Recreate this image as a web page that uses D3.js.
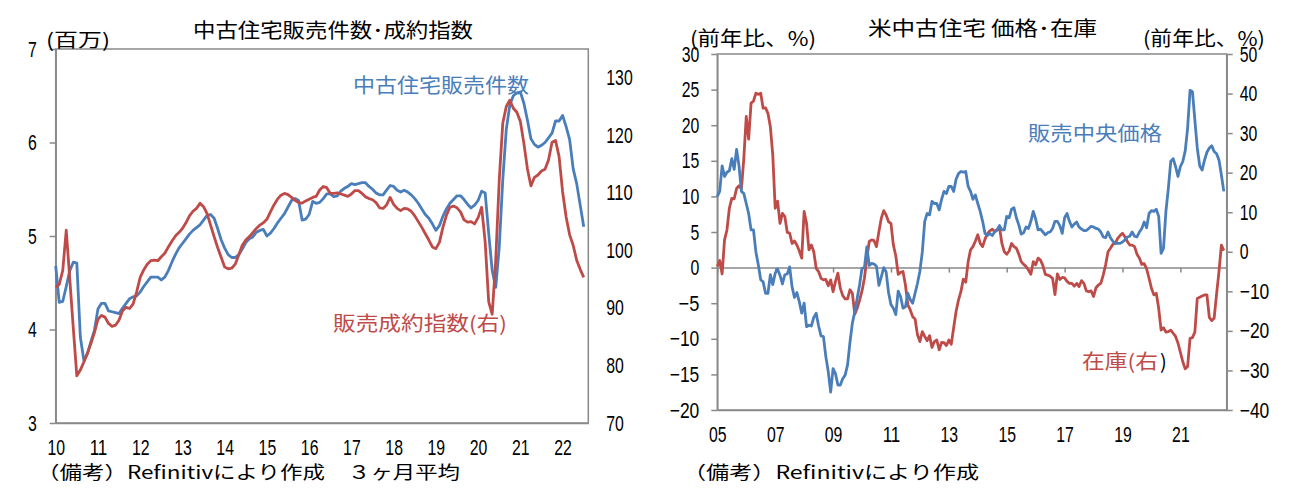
<!DOCTYPE html>
<html>
<head>
<meta charset="utf-8">
<title>中古住宅販売件数・米中古住宅 価格・在庫</title>
<style>
  body{margin:0;background:#fff}
  svg text{font-family:"Noto Sans CJK JP",sans-serif;fill:#000}
  .tick text{font-family:"Liberation Sans",Arial,sans-serif;font-size:22px;fill:#000}
</style>
</head>
<body>
<script src="https://d3js.org/d3.v7.min.js"></script>
<script>
// ---- left chart: 2010-01 .. 2022-07, monthly (3ヶ月平均)
var salesCount = [ // 中古住宅販売件数 (百万)
  4.68,4.29,4.30,4.46,4.63,4.72,4.71,3.92,3.67,3.74,3.87,3.99,
  4.22,4.28,4.28,4.20,4.19,4.18,4.17,4.23,4.28,4.33,4.35,4.36,
  4.40,4.46,4.51,4.56,4.56,4.56,4.53,4.56,4.63,4.72,4.80,4.87,
  4.92,4.97,5.02,5.06,5.09,5.12,5.17,5.22,5.23,5.19,5.08,4.96,
  4.87,4.80,4.77,4.77,4.80,4.86,4.93,4.97,4.99,5.04,5.06,5.07,
  5.00,5.03,5.08,5.14,5.19,5.24,5.31,5.38,5.40,5.38,5.17,5.18,
  5.23,5.37,5.35,5.36,5.40,5.45,5.45,5.42,5.43,5.48,5.51,5.53,
  5.56,5.55,5.56,5.57,5.57,5.53,5.50,5.46,5.44,5.44,5.49,5.54,
  5.53,5.49,5.47,5.49,5.47,5.44,5.40,5.35,5.29,5.23,5.19,5.13,
  5.06,5.11,5.21,5.29,5.35,5.39,5.43,5.43,5.39,5.34,5.30,5.33,
  5.38,5.48,5.46,5.03,4.63,4.45,4.88,5.60,6.14,6.40,6.50,6.53,
  6.54,6.42,6.24,6.04,5.98,5.95,5.97,6.00,6.05,6.10,6.23,6.23,
  6.29,6.17,6.03,5.72,5.56,5.33,5.10
];
var contractIndex = [ // 販売成約指数 (右軸)
  93.6,94.1,96.5,103.5,95.0,86.5,78.2,79.2,80.6,82.1,83.8,85.7,
  88.0,88.7,88.4,87.3,86.8,87.0,87.9,89.5,90.1,89.9,90.7,92.8,
  95.3,96.6,97.6,98.2,98.3,98.2,98.9,99.5,100.6,101.6,102.5,103.1,
  103.8,104.8,106.0,106.8,107.3,108.2,107.6,106.4,104.4,102.4,100.5,98.8,
  97.1,96.8,96.9,97.6,99.2,100.9,101.8,102.4,103.1,103.8,104.4,104.8,
  105.4,106.7,107.9,108.9,109.6,109.9,109.7,109.2,108.7,108.3,108.2,108.6,
  108.9,109.2,109.4,110.5,111.1,110.9,109.9,109.9,110.0,109.8,109.6,109.4,
  109.8,110.4,110.4,109.9,109.3,109.0,108.8,108.3,107.4,107.3,107.9,109.2,
  108.0,107.3,106.9,107.3,107.2,106.8,106.0,105.0,104.0,102.9,101.8,100.6,
  100.3,101.4,104.0,106.1,107.5,107.7,107.4,106.7,105.3,104.9,105.0,104.6,
  105.7,107.5,101.5,91.1,88.9,98.3,112.2,122.1,125.0,126.1,124.7,124.0,
  122.4,118.6,114.2,111.2,112.7,113.1,113.8,114.1,115.7,118.8,119.1,116.3,
  110.2,105.8,102.7,100.9,98.3,96.7,95.3
];
var leftYearLabels = ["10","11","12","13","14","15","16","17","18","19","20","21","22"];
var leftTicks = [3,4,5,6,7];
var leftTicks2 = [70,80,90,100,110,120,130];

// ---- right chart: 2005-01 .. 2022-07, monthly, 前年比 %
var medianPrice = [ // 販売中央価格
  10.0,10.7,14.3,12.8,13.4,13.6,15.3,13.8,16.6,14.3,10.7,10.4,
  9.0,7.6,5.3,5.3,2.2,0.4,-1.7,-2.0,-3.6,-3.6,-1.0,-2.4,
  -0.8,-0.2,-1.1,-2.3,-1.0,-0.9,0.1,-2.7,-4.2,-3.5,-4.8,-6.4,
  -5.0,-8.3,-8.1,-8.2,-7.0,-6.4,-8.2,-9.6,-9.7,-12.5,-14.6,-17.5,
  -14.2,-14.9,-16.5,-16.5,-15.6,-15.1,-13.7,-10.5,-7.8,-6.2,-4.3,-2.4,
  -0.1,0.0,2.9,0.3,0.6,0.5,0.2,-2.5,-1.3,0.0,-0.6,-3.5,
  -5.2,-5.7,-6.6,-3.3,-4.1,-5.7,-5.5,-3.6,-4.5,-5.0,-3.6,-2.2,
  -0.5,2.2,6.5,7.6,7.4,9.3,9.0,9.0,8.1,9.6,10.7,10.4,
  11.4,11.4,10.7,12.4,13.2,13.5,13.4,13.5,11.4,10.7,9.6,10.2,
  9.0,7.9,6.5,4.8,4.5,4.8,4.5,5.0,5.3,5.9,5.3,5.3,
  7.2,7.0,8.2,8.4,7.0,6.0,4.7,4.9,5.7,5.5,6.5,7.9,
  6.8,5.3,5.4,5.0,4.6,4.9,5.0,5.5,6.5,6.5,5.9,4.8,
  7.0,7.6,6.5,5.7,6.1,6.4,5.7,5.4,5.2,5.2,5.5,5.8,
  5.7,5.5,5.4,5.0,4.3,4.2,5.0,4.2,3.7,3.4,3.4,3.4,
  3.6,3.9,4.3,4.4,5.0,4.4,4.3,5.0,5.5,6.4,5.6,7.6,
  8.0,7.9,8.2,7.2,2.0,2.7,7.9,11.1,14.9,15.3,14.2,12.8,
  14.2,14.9,16.4,19.6,24.9,24.7,20.7,16.8,14.3,13.7,15.1,16.2,
  16.8,17.1,16.3,16.0,15.1,13.0,10.7
];
var inventory = [ // 在庫 (右軸)
  -3.7,-2.2,-5.6,3.0,5.5,11.0,13.5,13.4,16.0,16.7,15.9,23.6,
  34.2,28.5,37.6,38.1,40.1,39.8,40.1,36.3,36.4,35.0,31.6,24.5,
  11.0,12.8,7.2,9.7,8.9,4.9,4.7,2.1,2.7,1.7,0.2,-1.6,
  10.2,7.2,0.5,1.7,0.0,-4.2,-5.0,-6.7,-7.1,-7.0,-8.6,-7.1,
  -10.1,-7.5,-5.4,-9.2,-11.1,-11.9,-11.9,-9.6,-10.5,-15.8,-14.3,-12.2,
  -9.9,-6.7,-1.6,2.6,3.0,2.8,1.3,5.1,8.5,10.4,9.3,7.6,
  7.2,1.7,-1.0,-5.7,-5.2,-5.0,-8.4,-13.4,-14.7,-16.4,-17.0,-21.0,
  -22.7,-20.2,-21.4,-22.5,-21.2,-24.2,-22.7,-22.3,-24.8,-22.9,-23.0,-23.7,
  -22.3,-23.4,-19.2,-15.1,-12.2,-10.1,-6.9,-7.7,-2.5,0.5,1.3,2.7,
  4.3,2.1,1.3,3.2,4.6,5.3,5.7,5.1,5.5,6.2,2.1,0.0,
  -0.6,0.2,2.1,1.3,0.9,-0.6,-2.5,-3.2,-3.7,-4.6,-5.7,-2.5,
  -3.3,-1.6,-2.1,-3.5,-5.7,-5.9,-6.2,-6.7,-10.8,-5.6,-7.0,-6.5,
  -6.6,-7.5,-8.0,-8.0,-8.7,-8.0,-8.8,-7.3,-8.0,-9.9,-10.1,-9.9,
  -11.3,-9.1,-8.4,-8.0,-5.9,-3.3,0.0,0.9,1.9,2.1,3.4,4.1,
  4.7,3.8,2.6,1.7,1.7,1.3,-0.6,-1.6,-3.2,-3.0,-4.3,-6.7,
  -9.2,-10.9,-10.5,-14.3,-19.8,-19.2,-20.3,-20.2,-19.8,-20.6,-21.4,-23.1,
  -25.4,-27.8,-29.6,-29.0,-21.9,-21.7,-20.3,-11.8,-11.5,-11.2,-10.9,-10.9,
  -16.6,-17.4,-16.8,-10.7,-5.0,1.7,0.3
];
var rightYearLabels = ["05","07","09","11","13","15","17","19","21"];
var rightTicks = [-20,-15,-10,-5,0,5,10,15,20,25,30];
var rightTicks2 = [-40,-30,-20,-10,0,10,20,30,40,50];

var blue = "#4a7ebb", red = "#be4b48", gray = "#898989";

var svg = d3.select("body").append("svg")
    .attr("width", 1304)
    .attr("height", 501);

// gray axis lines, narrow tall digits like the original
function styleAxis(g){
  g.select(".domain").attr("stroke", gray).attr("stroke-width", 1.5);
  g.selectAll(".tick line").attr("stroke", gray).attr("stroke-width", 1.5);
  g.selectAll(".tick text").each(function(){
    var t = this.textContent, w = 0;
    for (var k = 0; k < t.length; k++) w += (t[k] === "\u2212") ? 12 : 8.8;
    if (w > 0) d3.select(this).attr("textLength", w).attr("lengthAdjust", "spacingAndGlyphs");
  });
}

function label(txt, x, y, len, size, color){
  return svg.append("text")
    .attr("x", x).attr("y", y)
    .attr("dominant-baseline", "central")
    .attr("textLength", len).attr("lengthAdjust", "spacingAndGlyphs")
    .style("font-size", size + "px")
    .style("fill", color || "#000")
    .text(txt);
}

// ================= left chart =================
var L = {left: 55.7, right: 588.3, top: 49, bottom: 423};
var xL = d3.scaleLinear().domain([0, 151.3]).range([L.left, L.right]);
var yL = d3.scaleLinear().domain([3, 7]).range([L.bottom, L.top]);
var yL2 = d3.scaleLinear().domain([70, 135]).range([L.bottom, L.top]);

svg.append("rect")
    .attr("x", L.left).attr("y", L.top)
    .attr("width", L.right - L.left).attr("height", L.bottom - L.top)
    .attr("fill", "none").attr("stroke", gray).attr("stroke-width", 1.5);

svg.append("g")
    .attr("transform", "translate(" + L.left + ",0)")
    .call(d3.axisLeft(yL).tickValues(leftTicks).tickSize(6).tickSizeOuter(0).tickPadding(13).tickFormat(d3.format("d")))
    .call(styleAxis);

svg.append("g")
    .attr("transform", "translate(" + L.right + ",0)")
    .call(d3.axisRight(yL2).tickValues(leftTicks2).tickSize(0).tickPadding(18).tickFormat(d3.format("d")))
    .call(styleAxis)
    .call(function(g){ g.select(".domain").remove(); });

svg.append("g")
    .attr("transform", "translate(0," + L.bottom + ")")
    .call(d3.axisBottom(xL).tickValues(leftYearLabels.map(function(d, i){ return i * 12; }))
        .tickSize(0).tickPadding(16).tickFormat(function(d, i){ return leftYearLabels[i]; }))
    .call(styleAxis);

var lineL = d3.line().x(function(d, i){ return xL(i); });
svg.append("path")
    .datum(salesCount)
    .attr("d", lineL.y(function(d){ return yL(d); }))
    .attr("fill", "none").attr("stroke", blue).attr("stroke-width", 2.8).attr("stroke-linejoin", "round");
svg.append("path")
    .datum(contractIndex)
    .attr("d", lineL.y(function(d){ return yL2(d); }))
    .attr("fill", "none").attr("stroke", red).attr("stroke-width", 2.8).attr("stroke-linejoin", "round");

label("中古住宅販売件数･成約指数", 193, 29, 280, 20);
label("(百万)", 46, 38, 64, 19);
label("中古住宅販売件数", 353, 84, 176, 20, blue);
label("販売成約指数(右)", 333, 322, 174, 20, red);
label("（備考）Refinitivにより作成", 37, 471, 288, 18);
label("３ヶ月平均", 348, 471, 112, 18);

// ================= right chart =================
var R = {left: 717.3, right: 1226.7, top: 54, bottom: 410};
var xR = d3.scaleLinear().domain([0, 211.2]).range([R.left, R.right]);
var yR = d3.scaleLinear().domain([-20, 30]).range([R.bottom, R.top]);
var yR2 = d3.scaleLinear().domain([-40, 50]).range([R.bottom, R.top]);

svg.append("rect")
    .attr("x", R.left).attr("y", R.top)
    .attr("width", R.right - R.left).attr("height", R.bottom - R.top)
    .attr("fill", "none").attr("stroke", gray).attr("stroke-width", 1.5);

svg.append("g")
    .attr("transform", "translate(" + R.left + ",0)")
    .call(d3.axisLeft(yR).tickValues(rightTicks).tickSize(6).tickSizeOuter(0).tickPadding(12).tickFormat(d3.format("d")))
    .call(styleAxis);

svg.append("g")
    .attr("transform", "translate(" + R.right + ",0)")
    .call(d3.axisRight(yR2).tickValues(rightTicks2).tickSize(6).tickSizeOuter(0).tickPadding(7).tickFormat(d3.format("d")))
    .call(styleAxis);

var rightTickPos = rightYearLabels.map(function(d, i){ return i * 24; });

// zero line with small year ticks
svg.append("g")
    .attr("transform", "translate(0," + yR(0) + ")")
    .call(d3.axisBottom(xR).tickValues(rightTickPos).tickSize(5).tickSizeOuter(0).tickFormat(""))
    .call(styleAxis);

svg.append("g")
    .attr("transform", "translate(0," + R.bottom + ")")
    .call(d3.axisBottom(xR).tickValues(rightTickPos).tickSize(0).tickPadding(16)
        .tickFormat(function(d, i){ return rightYearLabels[i]; }))
    .call(styleAxis);

var lineR = d3.line().x(function(d, i){ return xR(i); });
svg.append("path")
    .datum(inventory)
    .attr("d", lineR.y(function(d){ return yR2(d); }))
    .attr("fill", "none").attr("stroke", red).attr("stroke-width", 2.8).attr("stroke-linejoin", "round");
svg.append("path")
    .datum(medianPrice)
    .attr("d", lineR.y(function(d){ return yR(d); }))
    .attr("fill", "none").attr("stroke", blue).attr("stroke-width", 2.8).attr("stroke-linejoin", "round");

label("米中古住宅 価格･在庫", 868, 27, 229, 20);
label("(前年比、%)", 690, 37, 126, 20);
label("(前年比、%)", 1143, 37, 122, 20);
label("販売中央価格", 1028, 132, 134, 20, blue);
label("在庫(右", 1082, 360, 76, 20, red);
svg.append("text").attr("x", 1160).attr("y", 360).attr("dominant-baseline", "central")
    .style("font-size", "20px").text(")");
label("（備考）Refinitivにより作成", 683, 471, 296, 18);
</script>
</body>
</html>
